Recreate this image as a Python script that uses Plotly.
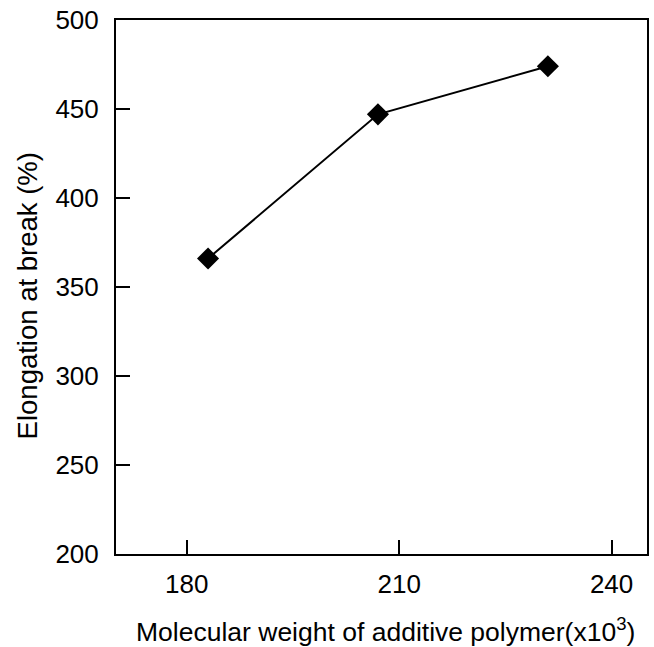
import plotly.graph_objects as go

mol_weight = [183, 207, 231]
elongation = [366, 447, 474]
x_ticks = [180, 210, 240]
y_ticks = [200, 250, 300, 350, 400, 450, 500]

FONT = "Liberation Sans, Arial, sans-serif"

fig = go.Figure()
fig.add_trace(go.Scatter(
    x=mol_weight, y=elongation, mode="lines+markers",
    line=dict(color="black", width=2),
    marker=dict(symbol="diamond", size=17, color="black"),
    showlegend=False,
))

axis_common = dict(
    showgrid=False, zeroline=False, showline=True, linecolor="black", linewidth=2,
    mirror=True, ticks="inside", ticklen=14, tickwidth=2, tickcolor="black",
    tickfont=dict(family=FONT, size=26, color="black"),
)

fig.update_xaxes(range=[170, 245], tickvals=x_ticks, ticktext=[str(v) for v in x_ticks],
                 ticklabelstandoff=6, **axis_common)
fig.update_yaxes(range=[200, 500], tickvals=y_ticks, ticktext=[str(v) for v in y_ticks],
                 ticklabelstandoff=10, **axis_common)

fig.add_annotation(text="Molecular weight of additive polymer(x10<sup>3</sup>)",
                   xref="paper", yref="paper", x=0.507, y=-0.142,
                   xanchor="center", yanchor="middle", showarrow=False,
                   font=dict(family=FONT, size=26.5, color="black"))
fig.add_annotation(text="Elongation at break (%)",
                   xref="paper", yref="paper", x=-0.167, y=0.483,
                   xanchor="center", yanchor="middle", showarrow=False, textangle=-90,
                   font=dict(family=FONT, size=27.5, color="black"))

fig.update_layout(
    width=654, height=647,
    margin=dict(l=116, r=5, t=20, b=93),
    plot_bgcolor="white", paper_bgcolor="white",
)

fig.write_html("out.html")
